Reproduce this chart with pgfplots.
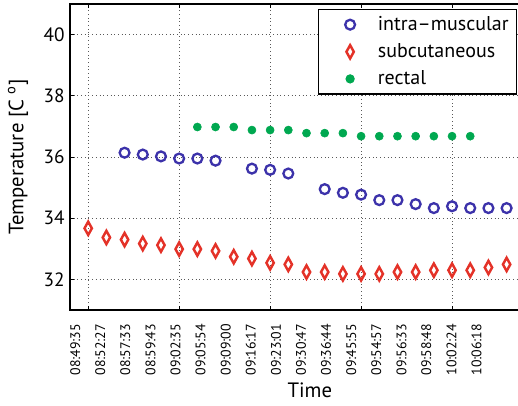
\documentclass[border=0pt]{standalone}
\usepackage{fontspec}
\setmainfont{PT Sans}
\usepackage{pgfplots}
\pgfplotsset{compat=1.18}

\definecolor{imblue}{RGB}{60,50,170}
\definecolor{scred}{RGB}{228,50,40}
\definecolor{recgreen}{RGB}{0,168,80}

\begin{document}
\begin{tikzpicture}
\begin{axis}[
    name=ax, at={(0,0)}, anchor=south west,
    scale only axis,
    width=307.45pt, height=198.9pt,
    xmin=-1, xmax=25, ymin=31, ymax=41,
    xtick={0,5,10,15,20}, xticklabels={},
    ytick={32,34,36,38,40},
    xmajorgrids, ymajorgrids,
    grid style={dotted, black!65, line width=0.5pt},
    major tick length=2.5pt,
    tick style={black, line width=0.5pt},
    axis line style={line width=0.8pt},
    font=\fontsize{12.5}{15}\selectfont,
    /pgf/number format/assume math mode=true,
    extra x ticks={-0.71,0.67,2.04,3.42,4.80,6.18,7.56,8.94,10.32,11.70,13.08,14.46,15.84,17.22,18.59,19.97,21.35},
    extra x tick labels={08:49:35,08:52:27,08:57:33,08:59:43,09:02:35,09:05:54,09:09:00,09:16:17,09:23:01,09:30:47,09:36:44,09:45:55,09:54:57,09:56:33,09:58:48,10:02:24,10:06:18},
    extra x tick style={grid=none, major tick length=0pt,
        tick label style={rotate=90, anchor=east, font=\fontsize{9}{10}\selectfont, inner xsep=9pt}},
    xlabel={Time},
    ylabel={Temperature [C \textsuperscript{o}]},
    xlabel style={at={(axis description cs:0.507,-0.261)}, anchor=center, font=\fontsize{13.5}{16}\selectfont},
    ylabel style={at={(axis description cs:-0.11,0.5)}, anchor=center, font=\fontsize{13.5}{16}\selectfont},
    legend style={at={(0.945,0.984)}, anchor=north east, draw=black, line width=0.8pt,
        font=\fontsize{13}{15}\selectfont, legend cell align=left, row sep=3pt,
        inner xsep=3pt, inner ysep=2.5pt},
    legend image code/.code={
        \path (0cm,0cm) (1.15cm,0cm);
        \draw[#1] plot coordinates {(0.6cm,0cm)};
    },
]
\addplot[only marks, mark=o, mark size=3.2pt, draw=imblue, mark options={line width=1.5pt}] coordinates {
    (2,36.14) (3,36.08) (4,36.02) (5,35.95) (6,35.95) (7,35.88)
    (9,35.62) (10,35.58) (11,35.46)
    (13,34.95) (14,34.83) (15,34.77) (16,34.59) (17,34.59) (18,34.46)
    (19,34.33) (20,34.39) (21,34.33) (22,34.33) (23,34.33)
};
\addlegendentry{intra--muscular}
\addplot[only marks, mark=diamond, mark size=3.2pt, draw=scred, mark options={yscale=1.35, line width=1.6pt}] coordinates {
    (0,33.67) (1,33.37) (2,33.30) (3,33.17) (4,33.12) (5,32.99)
    (6,32.99) (7,32.93) (8,32.74) (9,32.68) (10,32.54) (11,32.49)
    (12,32.24) (13,32.24) (14,32.18) (15,32.18) (16,32.18) (17,32.24)
    (18,32.24) (19,32.30) (20,32.30) (21,32.30) (22,32.39) (23,32.49)
};
\addlegendentry{subcutaneous}
\addplot[only marks, mark=*, mark size=2.6pt, draw=recgreen, fill=recgreen] coordinates {
    (6,36.98) (7,36.98) (8,36.98) (9,36.88) (10,36.88) (11,36.88)
    (12,36.78) (13,36.78) (14,36.78) (15,36.68) (16,36.68) (17,36.68)
    (18,36.68) (19,36.68) (20,36.68) (21,36.68)
};
\addlegendentry{rectal}
\end{axis}
\pgfresetboundingbox
\path[use as bounding box] (-45.5pt,-62.4pt) rectangle (291.2pt,201.5pt);
\end{tikzpicture}
\end{document}
